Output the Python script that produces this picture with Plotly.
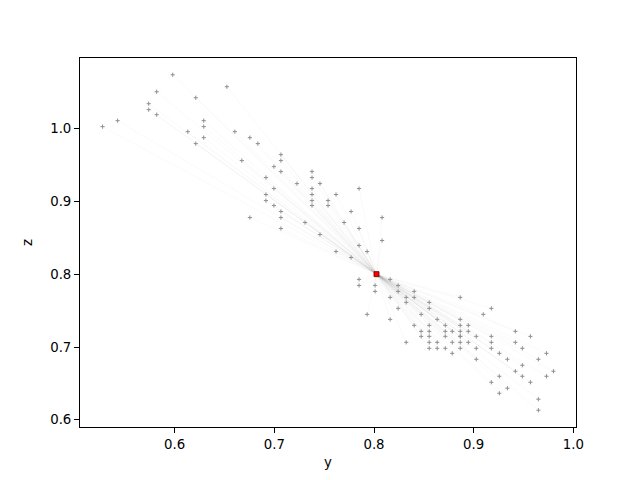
import plotly.graph_objects as go

# start points (y, z) of each trajectory
start_y = [0.5981, 0.6524, 0.5820, 0.6212, 0.5740, 0.5740, 0.5820, 0.5428, 0.6292, 0.5277,
           0.6292, 0.6132, 0.6604, 0.6292, 0.6212, 0.6674, 0.6755, 0.6835, 0.7066, 0.7066,
           0.6996, 0.7066, 0.7378, 0.6916, 0.7378, 0.7227, 0.7458, 0.6996, 0.7378, 0.7850,
           0.6916, 0.7378, 0.7619, 0.6916, 0.7378, 0.7539, 0.6996, 0.7378, 0.7539, 0.7066,
           0.7770, 0.6755, 0.7066, 0.8081, 0.7308, 0.7700, 0.7066, 0.7850, 0.7458, 0.8081,
           0.7850, 0.7619, 0.7931, 0.7770, 0.7850, 0.8162, 0.7850, 0.8011, 0.8242, 0.8011,
           0.8242, 0.8403, 0.8162, 0.8323, 0.8403, 0.8323, 0.8242, 0.7931, 0.8162, 0.8323,
           0.8554, 0.8865, 0.8554, 0.9177, 0.8473, 0.9096, 0.8634, 0.8865, 0.8403, 0.8554,
           0.8715, 0.8865, 0.8946, 0.8473, 0.8554, 0.8715, 0.8785, 0.8865, 0.8946, 0.9418,
           0.8473, 0.8554, 0.8715, 0.8865, 0.8865, 0.9026, 0.9177, 0.9569, 0.8554, 0.8634,
           0.8785, 0.8865, 0.8946, 0.9177, 0.9418, 0.8554, 0.8634, 0.8715, 0.8865, 0.9026,
           0.9177, 0.9488, 0.8785, 0.9257, 0.9730, 0.9026, 0.9338, 0.9649, 0.9488, 0.9418,
           0.9800, 0.9257, 0.9488, 0.9730, 0.9177, 0.9569, 0.9338, 0.9257, 0.9649, 0.9649]
start_z = [1.0737, 1.0573, 1.0504, 1.0422, 1.0340, 1.0258, 1.0189, 1.0107, 1.0107, 1.0025,
           1.0025, 0.9956, 0.9956, 0.9874, 0.9792, 0.9559, 0.9874, 0.9792, 0.9641, 0.9559,
           0.9476, 0.9408, 0.9408, 0.9326, 0.9326, 0.9243, 0.9243, 0.9175, 0.9175, 0.9175,
           0.9093, 0.9093, 0.9093, 0.9010, 0.9010, 0.9010, 0.8942, 0.8942, 0.8942, 0.8860,
           0.8860, 0.8777, 0.8777, 0.8777, 0.8709, 0.8709, 0.8627, 0.8627, 0.8544, 0.8462,
           0.8394, 0.8311, 0.8311, 0.8229, 0.7928, 0.7928, 0.7845, 0.7845, 0.7845, 0.7763,
           0.7763, 0.7763, 0.7681, 0.7681, 0.7681, 0.7612, 0.7530, 0.7448, 0.7379, 0.7064,
           0.7612, 0.7681, 0.7530, 0.7530, 0.7448, 0.7448, 0.7379, 0.7379, 0.7297, 0.7297,
           0.7297, 0.7297, 0.7297, 0.7215, 0.7215, 0.7215, 0.7215, 0.7215, 0.7215, 0.7215,
           0.7146, 0.7146, 0.7146, 0.7146, 0.7146, 0.7146, 0.7146, 0.7146, 0.7064, 0.7064,
           0.7064, 0.7064, 0.7064, 0.7064, 0.7064, 0.6982, 0.6982, 0.6982, 0.6982, 0.6982,
           0.6982, 0.6982, 0.6913, 0.6913, 0.6913, 0.6831, 0.6831, 0.6831, 0.6749, 0.6667,
           0.6667, 0.6598, 0.6598, 0.6598, 0.6516, 0.6516, 0.6434, 0.6365, 0.6283, 0.6132]

# common target point
target_y = [0.8025]
target_z = [0.8000]

fig = go.Figure()

# faint trajectory lines from each start to the target
line_x, line_y = [], []
for sy, sz in zip(start_y, start_z):
    line_x += [sy, target_y[0], None]
    line_y += [sz, target_z[0], None]
fig.add_trace(go.Scatter(x=line_x, y=line_y, mode="lines",
                         line=dict(color="rgba(140,140,140,0.07)", width=0.6),
                         hoverinfo="skip", showlegend=False))

fig.add_trace(go.Scatter(x=start_y, y=start_z, mode="markers",
                         marker=dict(symbol="cross-thin", size=3,
                                     line=dict(color="#909090", width=1)),
                         showlegend=False))

fig.add_trace(go.Scatter(x=target_y, y=target_z, mode="markers",
                         marker=dict(symbol="square", size=5, color="red",
                                     line=dict(color="#600000", width=0.8)),
                         showlegend=False))

def padded(vals):
    lo, hi = min(vals), max(vals)
    d = (hi - lo) * 0.05
    return [lo - d, hi + d]

font = dict(family="DejaVu Sans", size=13.3, color="black")
axis_common = dict(showline=True, linecolor="black", linewidth=1, mirror=True,
                   ticks="outside", ticklen=5, tickwidth=1, tickcolor="black",
                   showgrid=False, zeroline=False, tickfont=font,
                   tickformat=".1f", dtick=0.1)

fig.update_layout(
    width=640, height=480,
    margin=dict(l=80, r=64, t=58, b=53, autoexpand=False),
    paper_bgcolor="white", plot_bgcolor="white",
    font=font,
    xaxis=dict(range=padded(start_y + target_y), tick0=0.6,
               title=dict(text="y", font=font, standoff=6), **axis_common),
    yaxis=dict(range=padded(start_z + target_z), tick0=0.6,
               title=dict(text="z", font=font, standoff=14), **axis_common),
)

fig.write_html("out.html", config={"displayModeBar": False},
               post_script="document.body.style.margin='0';document.body.style.padding='0';")
